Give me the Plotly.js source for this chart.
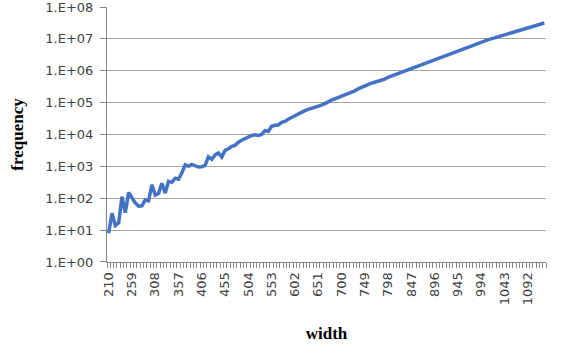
<!DOCTYPE html>
<html>
<head>
<meta charset="utf-8">
<script src="https://cdn.plot.ly/plotly-3.0.1.min.js"></script>
<style>html,body{margin:0;padding:0;background:#fff;}#chart{width:562px;height:362px;}</style>
</head>
<body>
<div id="chart"></div>
<script>
const widths = [210,217,224,231,238,245,252,259,266,273,280,287,294,301,308,315,322,329,336,343,350,357,364,371,378,385,392,399,406,413,420,427,434,441,448,455,462,469,476,483,490,497,504,511,518,525,532,539,546,553,560,567,574,581,588,595,602,609,616,623,630,637,644,651,658,665,672,679,686,693,700,707,714,721,728,735,742,749,756,763,770,777,784,791,798,805,812,819,826,833,840,847,854,861,868,875,882,889,896,903,910,917,924,931,938,945,952,959,966,973,980,987,994,1001,1008,1015,1022,1029,1036,1043,1050,1057,1064,1071,1078,1085,1092,1099,1106,1113,1120,1127];

const frequency = [8,34,14,17,112,35,151,100,71,56,
  58,89,83,263,126,141,295,145,339,316,
  427,398,617,1122,1000,1148,1023,955,977,1072,
  1995,1660,2291,2630,1950,3162,3548,4266,4571,5754,
  6607,7586,8511,9333,9772,9333,10000,13183,12589,18197,
  19498,19953,23988,25704,30200,34674,39811,44668,50119,56234,
  61660,66069,69183,75858,83176,93325,109648,120226,131826,144544,
  158489,173780,194984,213796,234423,269153,301995,331131,371535,407380,
  436516,467735,501187,549541,616595,676083,741310,812831,891251,977237,
  1071519,1174898,1258925,1380384,1548817,1698244,1862087,2041738,2238721,2454709,
  2691535,2951209,3235937,3548134,3890451,4265795,4677351,5128614,5623413,6165950,
  6606934,7244360,7943282,8511380,9332543,10000000,10715193,11481536,12302688,13182567,
  14454398,15488166,16595869,17782794,19054607,20417379,21877616,23442288,25118864,26915348,
  28840315,31622777];

const xTickVals = [210,259,308,357,406,455,504,553,602,651,700,749,798,847,896,945,994,1043,1092];
const xTickText = ['210','259','308','357','406','455','504','553','602','651','700','749','798','847','896','945','994','1043','1092'];
const yTickVals = [1,10,100,1000,10000,100000,1000000,10000000,100000000];
const yTickText = ['1.E+00','1.E+01','1.E+02','1.E+03','1.E+04','1.E+05','1.E+06','1.E+07','1.E+08'];

const trace = {
  x: widths, y: frequency, type: 'scatter', mode: 'lines',
  line: {color: '#4472C4', width: 3.5}, hoverinfo: 'skip'
};

const tickFont = {family: 'DejaVu Sans, sans-serif', size: 13, color: '#404040'};
const titleFont = {family: 'Liberation Serif, serif', size: 17, color: '#000'};

const layout = {
  width: 562, height: 362,
  margin: {l: 107, r: 16, t: 7, b: 100},
  paper_bgcolor: '#fff', plot_bgcolor: '#fff',
  showlegend: false,
  font: tickFont,
  xaxis: {
    type: 'linear', range: [206.5, 1130.5],
    tickmode: 'array', tickvals: xTickVals, ticktext: xTickText,
    tickangle: -90, ticks: '', showgrid: false, zeroline: false,
    showline: true, linecolor: '#868686', linewidth: 1,
    tickfont: tickFont, ticklabelstandoff: 4,
    minor: {tick0: 206.5, dtick: 7, ticks: 'outside', ticklen: 5, tickcolor: '#868686', tickwidth: 1, showgrid: false},
    title: {text: '<b>width</b>', font: titleFont, standoff: 22}
  },
  yaxis: {
    type: 'log', range: [-0.0008, 8.0008],
    tickmode: 'array', tickvals: yTickVals, ticktext: yTickText,
    ticks: 'outside', ticklen: 6, tickcolor: '#868686',
    showgrid: true, gridcolor: '#A6A6A6', gridwidth: 1,
    showline: true, linecolor: '#868686', linewidth: 1, zeroline: false,
    tickfont: tickFont, ticklabelstandoff: 4, ticklabeloverflow: 'allow',
    title: {text: '<b>frequency</b>', font: titleFont, standoff: 17}
  }
};

Plotly.newPlot('chart', [trace], layout, {displayModeBar: false, staticPlot: true});
</script>
</body>
</html>
